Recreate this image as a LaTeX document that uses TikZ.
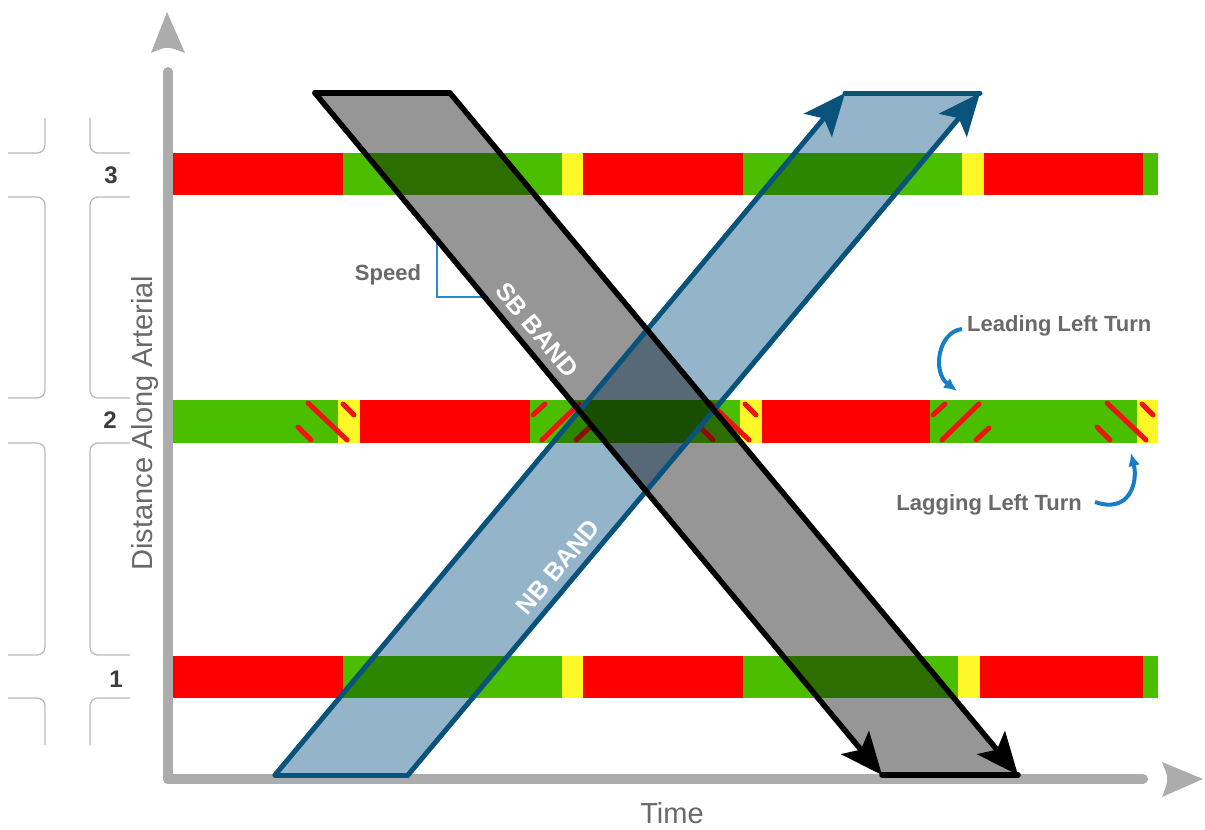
\documentclass[tikz,border=0pt]{standalone}
\usepackage{fontspec}
\setmainfont{Liberation Sans}
\usetikzlibrary{arrows.meta}
\definecolor{sigred}{RGB}{255,0,0}
\definecolor{siggreen}{RGB}{76,190,0}
\definecolor{sigyellow}{RGB}{255,248,40}
\definecolor{hatchred}{RGB}{238,20,20}
\definecolor{sbgray}{RGB}{150,150,150}
\definecolor{nbfillc}{RGB}{148,180,202}
\definecolor{nbline}{RGB}{8,82,124}
\definecolor{axisgray}{RGB}{172,172,172}
\definecolor{streetgray}{RGB}{185,185,185}
\definecolor{txtgray}{RGB}{105,105,105}
\definecolor{numgray}{RGB}{60,60,60}
\definecolor{turnblue}{RGB}{22,125,200}
\definecolor{speedblue}{RGB}{35,140,210}
\tikzset{
  street/.style={draw=streetgray, line width=1.3pt, rounded corners=8pt},
  axisline/.style={draw=axisgray, line width=10pt, line cap=round},
  axishead/.style={fill=axisgray},
  hatch/.style={draw=hatchred, line width=5pt, line cap=round},
  sbedge/.style={draw=black, line width=5.5pt, line cap=round, line join=round},
  nbedge/.style={draw=nbline, line width=5pt, line cap=round, line join=round},
  sbtip/.style={-{Stealth[length=42pt,width=36pt,inset=9pt]}},
  lbl/.style={font=\fontsize{22}{26}\selectfont\bfseries, text=txtgray, inner sep=0pt},
  axlbl/.style={font=\fontsize{29}{34}\selectfont, text=txtgray, inner sep=0pt},
  numlbl/.style={font=\fontsize{24}{28}\selectfont\bfseries, text=numgray, inner sep=0pt},
  bandlbl/.style={font=\fontsize{25}{30}\selectfont\bfseries, text=white, inner sep=0pt},
  turnarrow/.style={draw=turnblue, line width=4pt, -{Latex[length=13pt,width=12pt]}},
}
\begin{document}
\begin{tikzpicture}[x=1pt,y=-1pt]
\useasboundingbox (0,0) rectangle (1205,830);

% street outlines
\draw[street] (8,153) -- (45,153) -- (45,118);
\draw[street] (130,153) -- (90,153) -- (90,118);
\draw[street] (8,197) -- (45,197) -- (45,398) -- (8,398);
\draw[street] (130,197) -- (90,197) -- (90,398) -- (130,398);
\draw[street] (8,443) -- (45,443) -- (45,655) -- (8,655);
\draw[street] (130,443) -- (90,443) -- (90,655) -- (130,655);
\draw[street] (8,698) -- (45,698) -- (45,745);
\draw[street] (130,698) -- (90,698) -- (90,745);
\node[numlbl] (n3) at (111,175) {3};
\node[numlbl] (n2) at (110,420) {2};
\node[numlbl] (n1) at (116,679) {1};

% signal bars
\foreach \a/\b/\c in {173/343/sigred,343/562/siggreen,562/583/sigyellow,583/743/sigred,743/962/siggreen,962/984/sigyellow,984/1143/sigred,1143/1158/siggreen}
  \fill[\c] (\a,153) rectangle (\b,195);
\foreach \a/\b/\c in {173/338/siggreen,338/360/sigyellow,360/530/sigred,530/740/siggreen,740/762/sigyellow,762/930/sigred,930/1137/siggreen,1137/1158/sigyellow}
  \fill[\c] (\a,400) rectangle (\b,443);
\foreach \a/\b/\c in {173/343/sigred,343/562/siggreen,562/583/sigyellow,583/743/sigred,743/958/siggreen,958/980/sigyellow,980/1143/sigred,1143/1158/siggreen}
  \fill[\c] (\a,656) rectangle (\b,698);

% lagging left-turn hatches
\foreach \y in {338,740,1137}{
  \draw[hatch] (\y-30,403) -- (\y+9,440);
  \draw[hatch] (\y-40,427) -- (\y-27,440);
  \draw[hatch] (\y+5,404) -- (\y+16,415);
}
% leading left-turn hatches
\foreach \g in {530,930}{
  \draw[hatch] (\g+3,415) -- (\g+15,404);
  \draw[hatch] (\g+12,440) -- (\g+49,404);
  \draw[hatch] (\g+46,440) -- (\g+59,428);
}

% axes
\draw[axisline] (168,779) -- (168,72);
\fill[axishead] (167,12) -- (185,53) .. controls (167,46) .. (151,53) -- cycle;
\draw[axisline] (168,779) -- (1143,779);
\fill[axishead] (1203,779) -- (1162,762) .. controls (1169,779) .. (1162,797) -- cycle;

% band fills (multiply)
\coordinate (nbA) at (275,775);
\coordinate (nbB) at (408,775);
\coordinate (nbC) at (980,93);
\coordinate (nbD) at (845,93);
\coordinate (sbA) at (315,93);
\coordinate (sbB) at (450,93);
\coordinate (sbC) at (1018,775);
\coordinate (sbD) at (882,775);
\begin{scope}[blend mode=multiply]
  \fill[nbfillc] (nbA) -- (nbB) -- (nbC) -- (nbD) -- cycle;
  \fill[sbgray] (sbA) -- (sbB) -- (sbC) -- (sbD) -- cycle;
\end{scope}

% speed bracket
\draw[draw=speedblue, line width=2.5pt] (437,241) -- (437,297) -- (484,297);
\node[lbl] (speed) at (388,275) {Speed};

% NB outline
\draw[nbedge] (nbA) -- (nbB);
\draw[nbedge] (nbD) -- (nbC);
\draw[nbedge, sbtip] (nbA) -- (nbD);
\draw[nbedge, sbtip] (nbB) -- (nbC);
% SB outline
\draw[sbedge] (sbA) -- (sbB);
\draw[sbedge] (sbD) -- (sbC);
\draw[sbedge, sbtip] (sbA) -- (sbD);
\draw[sbedge, sbtip] (sbB) -- (sbC);

\node[bandlbl, rotate=-50.3] (sb) at (537,330) {SB BAND};
\node[bandlbl, rotate=50.1] (nb) at (558,567) {NB BAND};

% turn labels
\node[lbl, anchor=west] (lead) at (967,326) {Leading Left Turn};
\node[lbl, anchor=east] (lag) at (1082,505) {Lagging Left Turn};
\coordinate (leadS) at (962,329);
\coordinate (leadE) at (957,391);
\coordinate (lagS) at (1095,502);
\coordinate (lagE) at (1131,453);
\draw[turnarrow] (leadS) .. controls (938,332) and (932,372) .. (leadE);
\draw[turnarrow] (lagS) .. controls (1130,514) and (1138,482) .. (lagE);

% axis labels
\node[axlbl, rotate=90] (ylab) at (145,423) {Distance Along Arterial};
\node[axlbl] (xlab) at (672,813) {Time};
\end{tikzpicture}
\end{document}
